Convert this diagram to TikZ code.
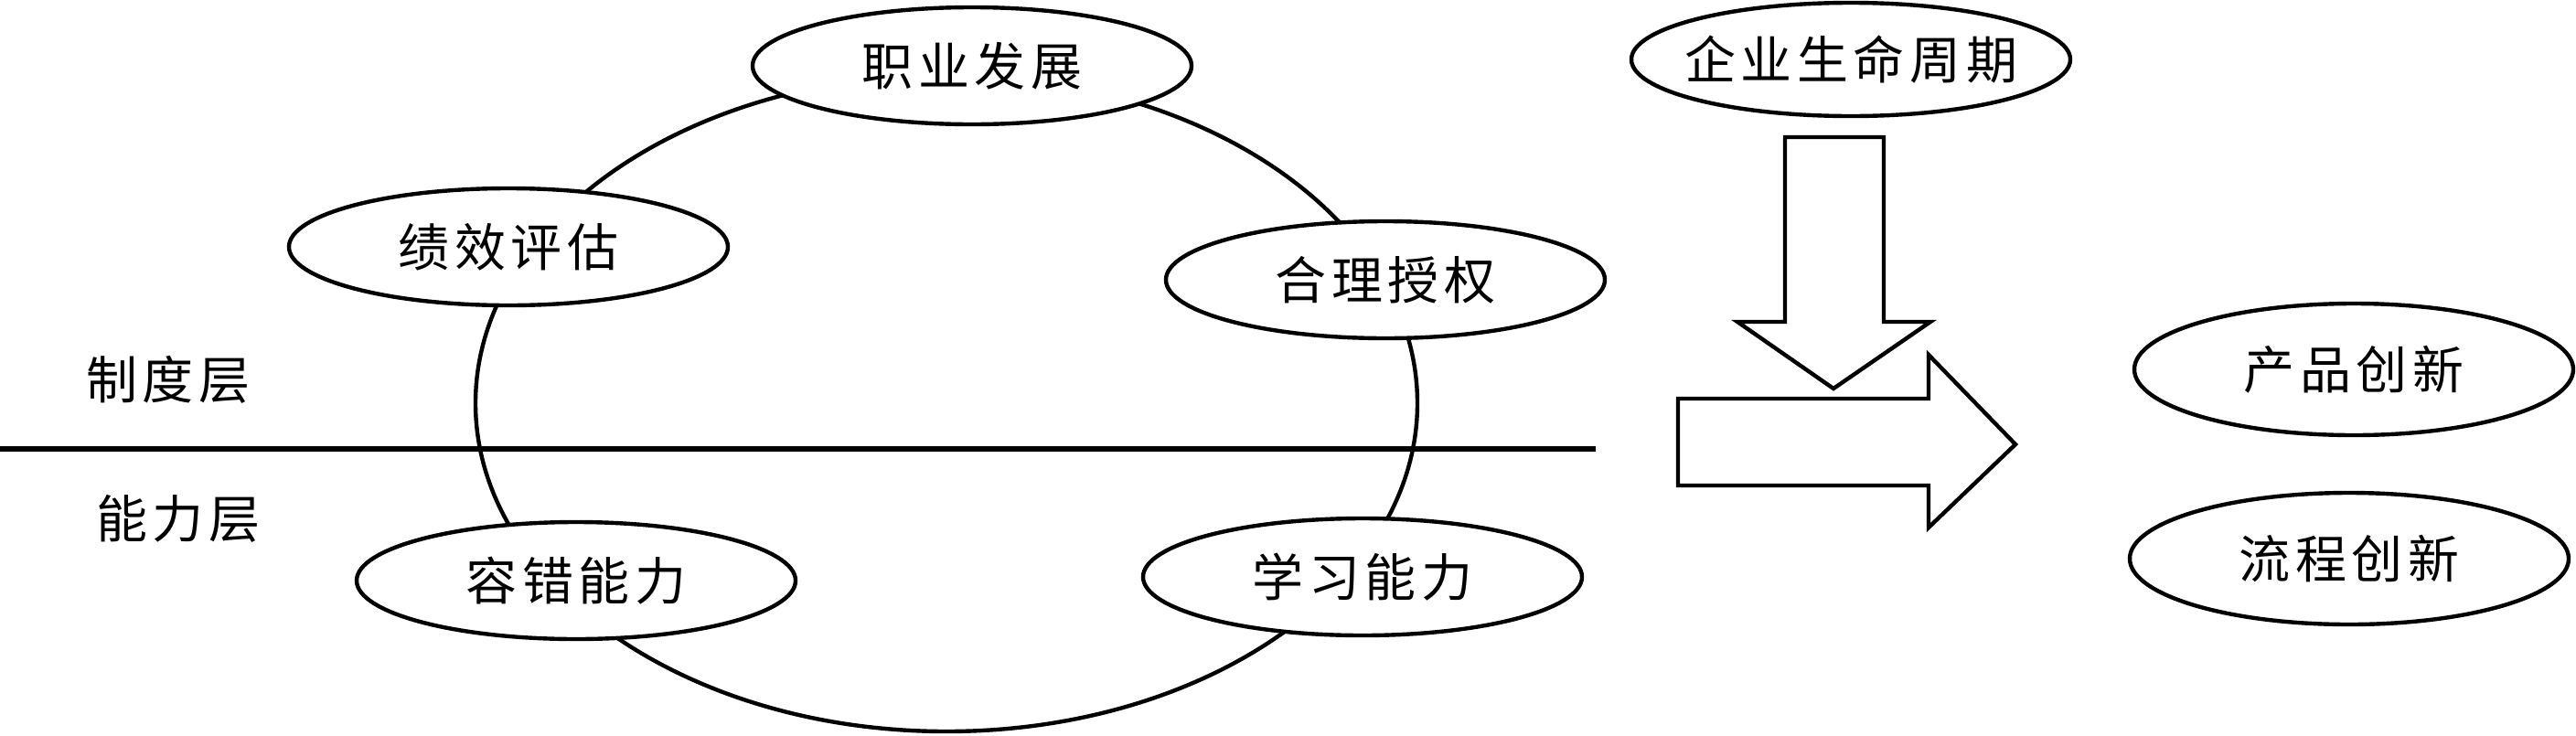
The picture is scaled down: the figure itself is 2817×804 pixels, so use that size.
\documentclass[tikz,border=0pt]{standalone}
\usepackage{fontspec}
\newfontfamily\cjk[LetterSpace=10]{Noto Sans CJK SC}
\usetikzlibrary{shapes.geometric}
\begin{document}
\begin{tikzpicture}[x=0.25pt,y=-0.25pt,
  every node/.style={font=\cjk\fontsize{14pt}{16pt}\selectfont},
  oval/.style={ellipse,draw,line width=1.1pt,fill=white,minimum width=120pt,minimum height=32pt,inner sep=0pt},
  shapeline/.style={line width=1.1pt},
  lbl/.style={inner sep=0pt}]
\useasboundingbox (0,0) rectangle (2817,804);
% big loop
\draw[shapeline] (1035,441) ellipse [x radius=515, y radius=359];
% divider
\coordinate (l0) at (0,491);
\coordinate (l1) at (1745,491);
\draw[line width=1.3pt] (l0) -- (l1);
% nodes
\node[oval] (zy) at (1063,72) {职业发展};
\node[oval] (jx) at (556,270) {绩效评估};
\node[oval] (hl) at (1515,306) {合理授权};
\node[oval] (rc) at (630,635) {容错能力};
\node[oval] (xx) at (1490,631) {学习能力};
\node[oval,minimum height=31pt,inner xsep=-4pt] (qy) at (2024,65) {企业生命周期};
\node[oval,minimum height=36pt] (cp) at (2574,404) {产品创新};
\node[oval,minimum height=36pt] (lc) at (2569,611) {流程创新};
\node[lbl] (zd) at (184,415) {制度层};
\node[lbl] (nl) at (195,567) {能力层};
% arrows
\draw[shapeline,line join=miter] (1952,150) -- (2060,150) -- (2060,352) -- (2111,352) -- (2005,425) -- (1900,352) -- (1952,352) -- cycle;
\draw[shapeline,line join=miter] (1835,436) -- (2109,436) -- (2109,388) -- (2204,486) -- (2109,577) -- (2109,531) -- (1835,531) -- cycle;
\end{tikzpicture}
\end{document}
